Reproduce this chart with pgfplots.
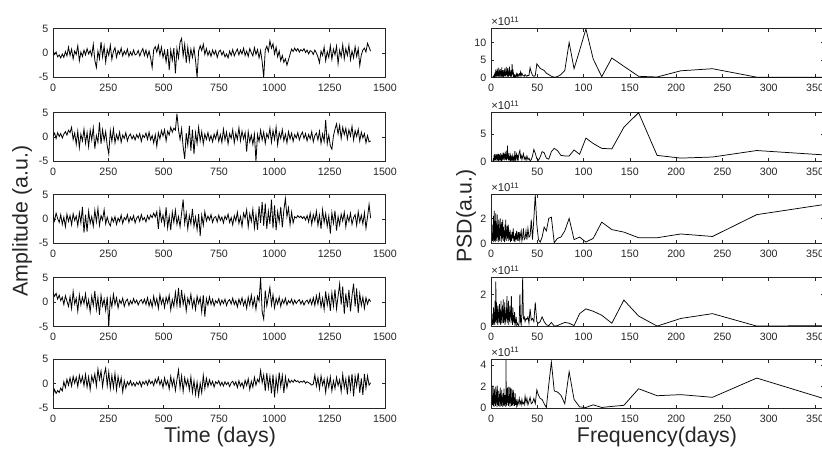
\documentclass[border=0pt]{standalone}
\usepackage{fontspec}
\setmainfont{Liberation Sans}
\usepackage{pgfplots}
\pgfplotsset{compat=1.18}

\definecolor{axgray}{RGB}{38,38,38}

\pgfplotsset{
  panel/.style={
    scale only axis, height=36.5pt,
    axis line style={axgray, line width=0.5pt},
    tick align=inside, major tick length=2.5pt,
    every tick/.style={axgray, line width=0.5pt},
    tick label style={font=\fontsize{8}{9}\selectfont, text=axgray},
    /pgf/number format/assume math mode=true,
    xticklabel style={yshift=-1.8pt},
    anchor=north west,
  },
  leftpanel/.style={panel, width=249pt,
    xmin=0, xmax=1500, ymin=-5, ymax=5,
    xtick={0,250,500,750,1000,1250,1500},
    xticklabels={0,250,500,750,1000,1250,1500},
    ytick={-5,0,5}, yticklabels={-5,0,5}},
  rightpanel/.style={panel, width=250pt,
    xmin=0, xmax=360, ymin=0,
    xtick={0,50,100,150,200,250,300,350},
    xticklabels={0,50,100,150,200,250,300,350},
    extra description/.code={
      \node[anchor=south west, inner sep=0pt, yshift=1.8pt,
        font=\fontsize{8.5}{9}\selectfont, text=axgray] at (0,1) {×10\textsuperscript{11}};}},
  sig/.style={black, line width=0.6pt},
  psd/.style={black, line width=0.55pt},
}

\begin{document}
\begin{tikzpicture}

% ---------- time series ----------
\begin{axis}[leftpanel, at={(39.75pt,-21.5pt)}]
\addplot[sig] coordinates {
(0,0.5)(7,-0.3)(14,0.2)(21,-0.8)(28,-0.4)(35,-1.0)(42,-0.2)(49,-0.9)(56,0.3)(63,-0.6)
(70,1.2)(77,-0.5)(84,0.8)(91,-1.2)(98,0.4)(105,-0.3)(112,1.5)(119,-1.6)(126,0.2)(133,-0.7)
(140,0.6)(147,-0.4)(154,0.9)(161,-0.2)(168,0.5)(175,-0.6)(182,1.8)(189,-1.5)(196,-3.0)(203,0.4)
(210,-1.2)(217,2.3)(224,-0.8)(231,1.4)(238,-1.9)(245,0.7)(252,-0.5)(259,1.6)(266,-1.3)(273,0.3)
(280,1.1)(287,-0.9)(294,0.5)(301,-0.2)(308,1.0)(315,-0.6)(322,0.4)(329,-0.3)(336,0.8)(343,-0.7)
(350,0.2)(357,-0.5)(364,0.6)(371,-0.4)(378,-0.2)(385,0.5)(392,-0.6)(399,0.3)(406,0.9)(413,-0.5)
(420,0.6)(427,-0.8)(434,0.4)(441,-1.0)(448,-3.0)(455,0.7)(462,1.3)(469,0.2)(476,1.6)(483,-0.4)
(490,1.2)(497,-0.9)(504,0.5)(511,-1.8)(518,0.8)(525,-3.5)(532,0.6)(539,-1.5)(546,1.0)(553,-4.2)
(560,0.9)(567,-1.0)(574,2.2)(581,3.0)(588,-0.6)(595,1.8)(602,-2.0)(609,1.2)(616,-1.6)(623,0.8)
(630,-0.9)(637,1.0)(644,-1.5)(651,-5.0)(658,0.4)(665,1.5)(672,0.5)(679,1.8)(686,-0.3)(693,0.9)
(700,-0.5)(707,0.4)(714,-0.7)(721,0.6)(728,-0.3)(735,0.5)(742,-0.9)(749,0.2)(756,0.6)(763,-0.4)
(770,0.3)(777,-0.8)(784,-0.2)(791,-1.0)(798,0.4)(805,-0.5)(812,0.7)(819,-0.6)(826,0.2)(833,0.8)
(840,-0.4)(847,0.6)(854,-0.2)(861,1.0)(868,-0.5)(875,0.4)(882,-0.7)(889,0.9)(896,0.1)(903,-0.6)
(910,1.1)(917,-0.3)(924,0.7)(931,-1.0)(938,0.5)(945,-1.8)(952,-5.0)(959,0.6)(966,1.4)(973,0.3)
(980,2.5)(987,1.0)(994,1.9)(1001,-0.2)(1008,1.2)(1015,-0.8)(1022,0.4)(1029,-1.6)(1036,-0.5)(1043,-1.9)
(1050,-1.2)(1057,-2.5)(1064,-1.4)(1071,-0.3)(1078,0.8)(1085,0.3)(1092,1.0)(1099,0.4)(1106,0.9)(1113,0.2)
(1120,0.7)(1127,0.4)(1134,0.9)(1141,0.1)(1148,0.6)(1155,-0.2)(1162,0.5)(1169,0.3)(1176,-0.3)(1183,0.6)
(1190,0.0)(1197,-0.8)(1204,-2.0)(1211,0.4)(1218,-0.5)(1225,1.2)(1232,-1.6)(1239,0.3)(1246,-0.9)(1253,1.5)
(1260,-1.3)(1267,0.8)(1274,-0.4)(1281,1.4)(1288,-2.2)(1295,0.6)(1302,-0.8)(1309,1.7)(1316,-1.2)(1323,0.9)
(1330,-0.5)(1337,1.6)(1344,-1.4)(1351,0.4)(1358,-1.0)(1365,1.3)(1372,-0.7)(1379,0.9)(1386,-2.6)(1393,-0.4)
(1400,0.6)(1407,1.0)(1414,0.2)(1421,2.0)(1428,1.2)(1435,0.4)};
\end{axis}

\begin{axis}[leftpanel, at={(39.75pt,-84.5pt)}]
\addplot[sig] coordinates {
(0,0.2)(7,0.8)(14,-0.3)(21,0.9)(28,0.1)(35,0.7)(42,-0.2)(49,0.6)(56,1.1)(63,0.4)
(70,1.4)(77,0.9)(84,2.0)(91,-0.5)(98,0.8)(105,-1.5)(112,1.2)(119,-2.2)(126,0.6)(133,-0.8)
(140,1.6)(147,-1.3)(154,0.9)(161,-2.0)(168,1.4)(175,-0.6)(182,1.9)(189,-2.4)(196,0.3)(203,-1.1)
(210,3.0)(217,-1.4)(224,1.5)(231,-0.7)(238,1.1)(245,-1.8)(252,-3.5)(259,1.3)(266,-0.9)(273,1.7)
(280,-1.2)(287,0.5)(294,-0.6)(301,1.0)(308,-1.1)(315,0.4)(322,-0.3)(329,0.9)(336,-0.8)(343,0.2)
(350,0.6)(357,-0.4)(364,0.3)(371,-0.6)(378,0.5)(385,-0.2)(392,0.7)(399,-0.9)(406,0.4)(413,-0.1)
(420,0.8)(427,-0.5)(434,1.0)(441,-0.6)(448,0.3)(455,-1.2)(462,0.5)(469,-1.9)(476,0.9)(483,-0.4)
(490,1.3)(497,0.2)(504,1.5)(511,-0.8)(518,1.2)(525,0.4)(532,2.0)(539,1.0)(546,1.8)(553,1.4)
(560,4.8)(567,1.5)(574,-0.5)(581,1.7)(588,-2.0)(595,-4.5)(602,0.8)(609,-1.7)(616,2.3)(623,-2.8)
(630,1.5)(637,-3.5)(644,0.9)(651,-1.3)(658,2.0)(665,-0.8)(672,1.1)(679,-1.4)(686,0.6)(693,-0.5)
(700,0.9)(707,-0.7)(714,0.3)(721,-1.0)(728,0.6)(735,-0.4)(742,1.2)(749,-0.9)(756,0.5)(763,-1.1)
(770,1.6)(777,-0.6)(784,1.0)(791,-1.4)(798,0.7)(805,-0.3)(812,1.5)(819,-1.2)(826,0.8)(833,-0.5)
(840,1.9)(847,-0.8)(854,1.2)(861,-0.4)(868,0.9)(875,-3.0)(882,1.1)(889,-1.0)(896,0.4)(903,-1.5)
(910,0.6)(917,-5.0)(924,0.5)(931,-0.9)(938,1.4)(945,-0.6)(952,1.0)(959,-1.3)(966,0.7)(973,-0.2)
(980,1.8)(987,-1.1)(994,1.3)(1001,-0.5)(1008,2.0)(1015,-1.6)(1022,0.9)(1029,-0.3)(1036,1.5)(1043,-0.8)
(1050,0.6)(1057,-1.2)(1064,1.1)(1071,-0.4)(1078,0.8)(1085,-0.9)(1092,0.5)(1099,-0.2)(1106,0.9)(1113,-0.6)
(1120,0.4)(1127,1.0)(1134,-0.3)(1141,0.7)(1148,-0.8)(1155,0.5)(1162,-0.4)(1169,1.1)(1176,-1.0)(1183,0.3)
(1190,0.8)(1197,-0.6)(1204,1.2)(1211,-1.3)(1218,0.6)(1225,-0.9)(1232,3.5)(1239,-1.4)(1246,0.4)(1253,-1.8)
(1260,-2.5)(1267,0.2)(1274,1.6)(1281,2.7)(1288,0.6)(1295,2.4)(1302,-0.3)(1309,2.0)(1316,0.5)(1323,1.8)
(1330,-0.4)(1337,1.5)(1344,0.2)(1351,2.2)(1358,-0.6)(1365,1.3)(1372,0.1)(1379,1.6)(1386,-0.8)(1393,1.0)
(1400,-0.2)(1407,0.7)(1414,-1.2)(1421,0.3)(1428,-1.0)(1435,-0.8)};
\end{axis}

\begin{axis}[leftpanel, at={(39.75pt,-146pt)}]
\addplot[sig] coordinates {
(0,0.8)(7,-0.4)(14,1.2)(21,0.1)(28,-0.7)(35,0.9)(42,-1.1)(49,0.4)(56,-1.6)(63,1.0)
(70,-0.5)(77,0.7)(84,-1.2)(91,1.1)(98,-0.3)(105,0.6)(112,-1.4)(119,1.3)(126,-0.8)(133,2.5)
(140,-2.8)(147,0.9)(154,-2.6)(161,1.6)(168,-0.9)(175,0.5)(182,-1.5)(189,1.8)(196,-0.6)(203,2.2)
(210,-1.3)(217,0.7)(224,-0.2)(231,1.9)(238,-1.0)(245,0.4)(252,-0.8)(259,-1.4)(266,0.3)(273,-0.6)
(280,0.5)(287,-1.1)(294,0.2)(301,-0.5)(308,0.8)(315,-0.9)(322,0.3)(329,-0.2)(336,0.9)(343,-0.7)
(350,0.4)(357,-0.3)(364,0.7)(371,-0.8)(378,0.2)(385,0.6)(392,-0.5)(399,0.9)(406,-0.2)(413,0.3)
(420,-0.6)(427,0.7)(434,-0.1)(441,0.8)(448,0.3)(455,1.2)(462,0.4)(469,1.5)(476,-2.0)(483,1.9)
(490,-0.5)(497,0.8)(504,-1.2)(511,2.4)(518,-1.8)(525,0.6)(532,-2.3)(539,1.4)(546,-0.7)(553,1.8)
(560,-1.1)(567,0.5)(574,-1.6)(581,1.2)(588,4.0)(595,-0.9)(602,1.3)(609,-2.0)(616,0.7)(623,-1.0)
(630,2.1)(637,-1.5)(644,0.4)(651,-2.2)(658,1.0)(665,-3.5)(672,0.8)(679,-1.3)(686,1.5)(693,-0.4)
(700,0.6)(707,-0.2)(714,0.9)(721,-0.7)(728,0.3)(735,0.5)(742,-0.6)(749,0.8)(756,-0.3)(763,0.4)
(770,-0.8)(777,0.6)(784,-0.1)(791,1.0)(798,-0.7)(805,0.3)(812,-1.2)(819,0.7)(826,-0.4)(833,1.4)
(840,-0.9)(847,0.5)(854,-1.5)(861,1.2)(868,0.2)(875,1.9)(882,-1.6)(889,1.1)(896,-0.5)(903,2.0)
(910,-1.8)(917,0.9)(924,-2.2)(931,2.6)(938,-0.8)(945,3.5)(952,-1.4)(959,3.2)(966,-2.0)(973,1.6)
(980,-1.0)(987,4.0)(994,-1.9)(1001,2.8)(1008,-2.3)(1015,1.5)(1022,-0.6)(1029,2.5)(1036,-1.7)(1043,1.8)
(1050,4.2)(1057,0.5)(1064,2.3)(1071,-1.2)(1078,1.4)(1085,-0.8)(1092,0.5)(1099,0.2)(1106,0.7)(1113,0.3)
(1120,0.6)(1127,0.1)(1134,0.5)(1141,-0.2)(1148,0.7)(1155,-0.6)(1162,1.2)(1169,-1.1)(1176,0.9)(1183,-0.4)
(1190,1.6)(1197,-1.3)(1204,0.8)(1211,-2.0)(1218,1.9)(1225,-0.7)(1232,1.1)(1239,-1.5)(1246,0.6)(1253,-3.0)
(1260,1.3)(1267,-0.9)(1274,1.7)(1281,-2.4)(1288,0.5)(1295,-1.2)(1302,1.0)(1309,-0.4)(1316,1.4)(1323,-1.6)
(1330,0.7)(1337,-0.5)(1344,1.2)(1351,-1.1)(1358,0.3)(1365,0.9)(1372,-1.3)(1379,1.5)(1386,-0.6)(1393,0.8)
(1400,-1.0)(1407,1.3)(1414,-1.9)(1421,0.4)(1428,3.0)(1435,0.2)};
\end{axis}

\begin{axis}[leftpanel, at={(39.75pt,-208.3pt)}]
\addplot[sig] coordinates {
(0,2.0)(7,1.2)(14,1.8)(21,0.6)(28,1.4)(35,0.3)(42,1.0)(49,-0.5)(56,1.3)(63,0.2)
(70,-0.9)(77,1.1)(84,-1.3)(91,2.2)(98,-0.4)(105,0.8)(112,-1.9)(119,1.5)(126,-0.6)(133,1.0)
(140,-0.3)(147,1.7)(154,-1.1)(161,0.5)(168,-2.0)(175,1.2)(182,-0.7)(189,2.3)(196,-1.5)(203,0.9)
(210,-2.6)(217,1.4)(224,-0.8)(231,0.6)(238,-1.7)(245,1.1)(252,-5.0)(259,0.8)(266,-1.0)(273,1.6)
(280,-0.5)(287,0.9)(294,-1.2)(301,0.4)(308,-0.3)(315,0.8)(322,-0.9)(329,0.2)(336,0.6)(343,-0.7)
(350,0.3)(357,-0.4)(364,0.7)(371,-0.2)(378,0.4)(385,-0.6)(392,0.2)(399,0.5)(406,-0.3)(413,0.6)
(420,-0.5)(427,0.9)(434,-0.8)(441,0.4)(448,-1.0)(455,1.2)(462,-0.6)(469,0.7)(476,-1.3)(483,1.5)
(490,-0.4)(497,0.8)(504,-1.1)(511,1.0)(518,-0.2)(525,1.4)(532,-1.6)(539,0.5)(546,-0.9)(553,2.0)
(560,-0.7)(567,2.9)(574,-1.2)(581,2.5)(588,-0.5)(595,1.3)(602,-1.8)(609,0.8)(616,-0.4)(623,1.6)
(630,-1.1)(637,0.6)(644,-1.5)(651,1.2)(658,-0.3)(665,0.9)(672,-2.0)(679,1.4)(686,-3.0)(693,0.7)
(700,-0.6)(707,1.1)(714,-0.5)(721,0.6)(728,-0.8)(735,0.3)(742,-0.2)(749,0.7)(756,-0.6)(763,0.4)
(770,-0.3)(777,0.6)(784,-0.7)(791,0.2)(798,0.5)(805,-0.4)(812,0.8)(819,-0.5)(826,0.3)(833,-1.0)
(840,0.6)(847,-0.4)(854,0.9)(861,-0.7)(868,0.4)(875,-1.3)(882,1.0)(889,-0.6)(896,1.4)(903,-0.9)
(910,0.8)(917,-1.5)(924,1.2)(931,0.2)(938,5.0)(945,-2.0)(952,-3.5)(959,2.4)(966,-0.8)(973,1.1)
(980,3.0)(987,-0.6)(994,1.5)(1001,-1.2)(1008,0.7)(1015,-0.4)(1022,1.0)(1029,-0.9)(1036,0.5)(1043,-0.3)
(1050,0.8)(1057,-0.6)(1064,0.3)(1071,-0.2)(1078,0.6)(1085,-0.5)(1092,0.4)(1099,-0.3)(1106,0.2)(1113,0.5)
(1120,-0.4)(1127,0.3)(1134,-0.6)(1141,0.1)(1148,0.4)(1155,-0.3)(1162,0.6)(1169,-0.5)(1176,0.9)(1183,-0.7)
(1190,1.3)(1197,-0.4)(1204,1.6)(1211,-1.0)(1218,0.8)(1225,-1.5)(1232,2.2)(1239,-0.6)(1246,1.4)(1253,-1.8)
(1260,1.9)(1267,-0.8)(1274,2.6)(1281,-1.4)(1288,1.2)(1295,3.7)(1302,-0.5)(1309,3.2)(1316,-2.4)(1323,1.8)
(1330,-1.1)(1337,2.5)(1344,-1.9)(1351,1.3)(1358,3.8)(1365,-0.9)(1372,2.8)(1379,-2.2)(1386,1.7)(1393,-0.7)
(1400,1.0)(1407,-1.3)(1414,0.9)(1421,-0.4)(1428,0.6)(1435,0.1)};
\end{axis}

\begin{axis}[leftpanel, at={(39.75pt,-269.5pt)}]
\addplot[sig] coordinates {
(0,-2.5)(7,-1.2)(14,-2.0)(21,-1.4)(28,-1.8)(35,-0.9)(42,-1.5)(49,0.4)(56,-0.8)(63,0.9)
(70,-0.3)(77,1.2)(84,-0.5)(91,1.5)(98,0.1)(105,1.3)(112,-0.6)(119,1.7)(126,0.2)(133,1.5)
(140,-0.4)(147,1.9)(154,-0.7)(161,1.4)(168,-1.2)(175,1.6)(182,0.3)(189,2.0)(196,-0.5)(203,3.0)
(210,0.8)(217,2.6)(224,-0.6)(231,1.8)(238,3.2)(245,-0.4)(252,2.4)(259,-1.0)(266,1.7)(273,-0.8)
(280,2.1)(287,-1.3)(294,1.5)(301,-0.5)(308,1.2)(315,-1.7)(322,0.6)(329,-0.9)(336,0.4)(343,-0.3)
(350,0.6)(357,-0.4)(364,0.2)(371,-0.5)(378,0.3)(385,-0.2)(392,0.5)(399,-0.6)(406,0.4)(413,-0.1)
(420,0.6)(427,-0.3)(434,0.8)(441,0.0)(448,0.5)(455,-0.4)(462,0.9)(469,0.1)(476,1.3)(483,-0.2)
(490,0.7)(497,-0.8)(504,1.2)(511,-0.3)(518,0.6)(525,-1.1)(532,1.5)(539,-0.5)(546,1.0)(553,-1.4)
(560,0.8)(567,2.8)(574,-0.9)(581,1.6)(588,-1.6)(595,1.2)(602,-0.4)(609,0.9)(616,-1.3)(623,1.4)
(630,-1.8)(637,0.6)(644,-2.2)(651,0.3)(658,-2.5)(665,0.1)(672,-1.9)(679,1.7)(686,-1.0)(693,1.1)
(700,-0.6)(707,0.8)(714,-0.3)(721,0.5)(728,-0.7)(735,0.4)(742,0.0)(749,0.6)(756,-0.4)(763,0.3)
(770,-0.5)(777,0.4)(784,-0.2)(791,0.3)(798,-0.6)(805,0.2)(812,0.5)(819,-0.3)(826,0.4)(833,-0.8)
(840,0.6)(847,-0.5)(854,0.2)(861,-0.9)(868,0.7)(875,-0.4)(882,1.0)(889,-1.2)(896,0.5)(903,-0.7)
(910,1.3)(917,-0.3)(924,0.9)(931,0.3)(938,2.7)(945,0.2)(952,1.8)(959,-1.5)(966,2.2)(973,-0.9)
(980,1.5)(987,-2.0)(994,1.9)(1001,-2.8)(1008,1.2)(1015,-1.4)(1022,2.3)(1029,-0.6)(1036,1.7)(1043,-1.9)
(1050,1.4)(1057,-0.8)(1064,0.9)(1071,0.2)(1078,0.7)(1085,0.3)(1092,0.8)(1099,0.4)(1106,0.6)(1113,0.2)
(1120,0.5)(1127,0.3)(1134,0.6)(1141,0.1)(1148,0.4)(1155,0.2)(1162,0.0)(1169,-0.3)(1176,-0.1)(1183,1.8)
(1190,-0.5)(1197,1.2)(1204,-1.1)(1211,1.6)(1218,-0.3)(1225,0.9)(1232,-1.8)(1239,1.1)(1246,-0.7)(1253,1.4)
(1260,-1.5)(1267,0.6)(1274,-1.0)(1281,1.3)(1288,-0.4)(1295,0.8)(1302,-1.6)(1309,1.9)(1316,-0.8)(1323,1.0)
(1330,-2.2)(1337,1.7)(1344,-1.2)(1351,2.0)(1358,-2.6)(1365,1.5)(1372,-0.5)(1379,2.2)(1386,-1.9)(1393,1.1)
(1400,-2.3)(1407,2.0)(1414,-0.9)(1421,1.6)(1428,-0.3)(1435,0.2)};
\end{axis}

% ---------- PSD (units of 1e11) ----------
\begin{axis}[rightpanel, at={(368.25pt,-21.5pt)}, ymax=14.1,
  ytick={0,5,10}, yticklabels={0,5,10}]
\addplot[psd] coordinates {
(2,0.1)(2.5,0.3)(3,0.1)(3.5,0.6)(4,0.1)(4.4,1.4)(4.8,0.2)(5.2,2.2)(5.6,0.3)(6,1.8)
(6.4,0.1)(6.8,2.5)(7.2,0.4)(7.6,1.5)(8,0.2)(8.4,2.8)(8.8,0.5)(9.2,1.2)(9.6,0.1)(10,2.4)
(10.4,0.6)(10.8,1.7)(11.2,0.2)(11.6,2.9)(12,0.8)(12.4,1.3)(12.8,0.2)(13.2,2.1)(13.6,0.4)(14,1.0)
(14.4,0.3)(14.8,2.6)(15.2,0.5)(15.6,1.6)(16,0.2)(16.4,3.0)(16.8,0.7)(17.2,1.9)(17.6,0.3)(18,2.7)
(18.4,0.6)(18.8,1.1)(19.2,0.2)(19.6,2.3)(20,3.1)(20.4,0.4)(20.8,1.5)(21.2,0.2)(21.6,2.0)(22,0.5)
(22.4,1.2)(22.8,3.8)(23.2,0.8)(23.6,2.4)(24,0.3)(24.4,1.0)(25,0.2)(25.6,0.6)(26.2,0.1)(26.8,0.4)
(27.4,1.0)(28,0.2)(28.7,0.9)(29.3,0.3)(29.9,0.7)
(30.5,1.0)(31.2,0.4)(31.9,1.5)(32.6,0.5)(33.4,1.2)(34.2,0.6)(35,0.5)(35.9,0.3)(36.8,0.8)(37.8,0.5)
(38.8,0.3)(39.9,0.6)(41,0.5)(42.2,2.8)(43.5,1.5)(44.8,0.6)(46.3,0.3)(47.8,0.5)(49.5,3.9)(51.25,3.3)
(53.1,2.6)(55.2,2.3)(57.4,2.0)(59.8,1.2)(62.4,0.8)(65.2,0.3)(68.3,0.05)(71.75,0.2)(75.5,0.8)(79.7,2.0)
(84.4,10.1)(89.7,2.5)(95.7,7.8)(102.5,14.0)(110.4,5.3)(119.6,0.2)(130.5,5.6)(143.5,3.2)(159.4,0.3)(179.4,0.1)
(205,1.9)(239.2,2.5)(287,0.05)(358.75,0.05)};
\end{axis}

\begin{axis}[rightpanel, at={(368.25pt,-84.5pt)}, ymax=9,
  ytick={0,5}, yticklabels={0,5},
  xtick={50,100,150,200,250,300,350},
  xticklabels={50,100,150,200,250,300,350}]
\addplot[psd] coordinates {
(2,0.1)(2.5,0.4)(3,0.1)(3.4,1.2)(3.8,0.2)(4.2,1.4)(4.6,0.3)(5,1.0)(5.4,0.1)(5.8,1.3)
(6.2,0.4)(6.6,1.1)(7,0.2)(7.4,1.4)(7.8,0.5)(8.2,0.9)(8.6,0.1)(9,1.3)(9.4,0.3)(9.8,1.0)
(10.2,0.2)(10.6,1.5)(11,0.4)(11.4,0.8)(11.8,0.1)(12.2,1.2)(12.6,0.3)(13,1.6)(13.4,0.5)(13.8,1.0)
(14.2,0.2)(14.6,1.4)(15,0.6)(15.4,1.8)(15.8,0.3)(16.2,1.1)(16.6,0.2)(17,2.0)(17.4,0.5)(17.8,2.9)
(18.2,0.4)(18.6,1.2)(19,0.2)(19.4,1.5)(19.8,0.3)(20.2,0.9)(20.6,0.1)(21,1.0)(21.6,0.2)(22.2,0.8)
(22.8,0.3)(23.4,1.0)(24,0.1)(24.6,0.7)(25.2,0.2)(25.8,1.9)(26.4,0.3)(27,0.8)(27.6,1.3)(28.2,0.2)
(28.8,0.9)(29.4,0.4)(29.9,1.2)
(30.5,1.6)(31.2,2.0)(31.9,0.7)(32.6,1.1)(33.4,0.3)(34.2,0.9)(35,1.4)(35.9,0.4)(36.8,0.8)(37.8,0.2)
(38.8,1.0)(39.9,0.3)(41,0.6)(42.2,0.1)(43.5,0.3)(44.8,1.0)(46.3,2.2)(47.8,1.5)(49.5,0.5)(51.25,0.2)
(53.1,0.8)(55.2,1.8)(57.4,1.6)(59.8,0.6)(62.4,0.4)(65.2,1.8)(68.3,2.4)(71.75,2.0)(75.5,1.1)(79.7,1.0)
(84.4,1.0)(89.7,2.1)(95.7,1.3)(102.5,4.3)(110.4,3.3)(119.6,2.4)(130.5,2.3)(143.5,6.3)(159.4,9.0)(179.4,1.1)
(205,0.6)(239.2,0.8)(287,2.0)(358.75,1.2)};
\end{axis}

\begin{axis}[rightpanel, at={(368.25pt,-146pt)}, ymax=3.9,
  ytick={0,2}, yticklabels={0,2}]
\addplot[psd] coordinates {
(1.5,0.2)(2,1.5)(2.4,0.1)(2.8,2.2)(3.2,0.3)(3.5,2.6)(3.9,0.2)(4.3,1.8)(4.7,0.1)(5.1,2.4)
(5.5,0.4)(5.9,1.6)(6.3,0.2)(6.7,2.3)(7.1,0.5)(7.5,1.4)(7.9,0.1)(8.3,1.9)(8.7,0.3)(9.1,1.2)
(9.5,0.2)(9.9,2.0)(10.3,0.6)(10.7,1.5)(11.1,0.1)(11.5,1.7)(11.9,0.4)(12.3,1.1)(12.7,1.9)(13.1,0.2)
(13.5,1.3)(13.9,0.5)(14.3,0.9)(14.7,0.1)(15.1,1.5)(15.5,0.3)(15.9,1.9)(16.3,0.6)(16.7,1.0)(17.1,0.2)
(17.5,1.4)(17.9,0.4)(18.3,0.8)(18.7,1.5)(19.1,0.2)(19.6,0.9)(20.1,0.3)(20.6,1.1)(21.1,0.1)(21.6,0.7)
(22.2,0.2)(22.8,0.9)(23.4,0.4)(24,1.2)(24.6,0.2)(25.2,0.6)(25.8,0.1)(26.4,0.8)(27,0.3)(27.7,1.0)
(28.3,0.2)(28.9,0.6)(29.5,0.9)(30,0.2)
(30.5,0.9)(31.2,0.3)(31.9,0.7)(32.6,1.0)(33.4,0.2)(34.2,0.5)(35,1.2)(35.9,0.3)(36.8,0.4)(37.8,1.0)
(38.8,0.3)(39.9,1.2)(41,0.5)(42.2,0.6)(43.5,1.9)(44.8,0.3)(46.3,2.0)(47.8,3.9)(49.5,1.5)(51.25,0.3)
(53.1,0.1)(55.2,0.5)(57.4,1.3)(59.8,1.0)(62.4,2.0)(65.2,2.1)(68.3,0.05)(71.75,0.4)(75.5,0.5)(79.7,1.0)
(84.4,2.0)(89.7,0.3)(95.7,0.5)(102.5,0.1)(110.4,0.4)(119.6,1.7)(130.5,1.1)(143.5,0.9)(159.4,0.45)(179.4,0.45)
(205,0.75)(239.2,0.55)(287,2.3)(358.75,3.1)};
\end{axis}

\begin{axis}[rightpanel, at={(368.25pt,-208.3pt)}, ymax=3.05,
  ytick={0,2}, yticklabels={0,2}]
\addplot[psd] coordinates {
(1.5,0.1)(2,0.8)(2.4,0.1)(2.8,1.2)(3.2,0.2)(3.6,0.9)(4,0.1)(4.4,1.6)(4.8,0.3)(5.2,2.8)
(5.6,0.2)(6,1.5)(6.4,0.4)(6.8,1.1)(7.2,0.1)(7.6,1.3)(8,0.5)(8.4,0.8)(8.8,0.2)(9.2,1.4)
(9.6,0.3)(10,1.0)(10.4,0.1)(10.8,1.6)(11.2,0.4)(11.6,0.9)(12,0.2)(12.4,1.3)(12.8,0.6)(13.2,1.7)
(13.6,0.2)(14,1.0)(14.4,0.4)(14.8,1.5)(15.2,0.1)(15.6,0.8)(16,0.3)(16.4,1.2)(16.8,0.5)(17.2,1.9)
(17.6,0.2)(18,1.1)(18.4,0.4)(18.8,1.6)(19.2,0.1)(19.6,0.9)(20,0.3)(20.4,1.3)(20.8,0.6)(21.2,1.0)
(21.6,0.2)(22,1.9)(22.4,0.4)(22.8,0.8)(23.2,0.1)(23.6,1.2)(24,0.3)(24.5,0.7)(25,0.2)(25.5,0.9)
(26,0.1)(26.6,0.3)(27.2,0.6)(27.8,0.1)(28.4,0.2)(29,0.1)(29.9,0.05)
(30.5,0.3)(31.2,2.0)(31.9,0.3)(32.6,0.1)(33.4,0.8)(34.2,3.05)(35,0.5)(35.9,0.6)(36.8,0.3)(37.8,0.5)
(38.8,0.45)(39.9,0.6)(41,0.2)(42.2,1.1)(43.5,0.4)(44.8,0.5)(46.3,0.3)(47.8,1.5)(49.5,0.3)(51.25,0.2)
(53.1,0.3)(55.2,0.6)(57.4,0.3)(59.8,0.1)(62.4,0.05)(65.2,0.25)(68.3,0.02)(71.75,0.05)(75.5,0.15)(79.7,0.25)
(84.4,0.2)(89.7,0.05)(95.7,0.8)(102.5,1.1)(110.4,0.95)(119.6,0.7)(130.5,0.2)(143.5,1.65)(159.4,0.65)(179.4,0.02)
(205,0.5)(239.2,0.8)(287,0.02)(358.75,0.05)};
\end{axis}

\begin{axis}[rightpanel, at={(368.25pt,-269.5pt)}, ymax=4.55,
  ytick={0,2,4}, yticklabels={0,2,4}]
\addplot[psd] coordinates {
(1.5,0.3)(2,2.1)(2.4,0.2)(2.8,1.4)(3.2,0.1)(3.6,1.8)(4,0.4)(4.4,1.2)(4.8,0.2)(5.2,2.0)
(5.6,0.5)(6,1.5)(6.4,0.1)(6.8,2.1)(7.2,0.3)(7.6,1.0)(8,0.2)(8.4,1.6)(8.8,0.6)(9.2,1.3)
(9.6,0.1)(10,1.9)(10.4,0.4)(10.8,1.1)(11.2,0.2)(11.6,1.7)(12,0.5)(12.4,1.0)(12.8,0.1)(13.2,1.4)
(13.6,0.3)(14,1.8)(14.4,0.2)(14.8,1.2)(15.2,0.4)(15.6,0.9)(16,0.1)(16.2,4.5)(16.5,0.2)(16.9,1.5)
(17.3,0.3)(17.7,1.9)(18.1,0.5)(18.5,1.1)(18.9,0.2)(19.3,2.0)(19.7,0.4)(20.1,1.3)(20.5,0.1)(20.9,1.9)
(21.3,0.5)(21.7,1.0)(22.1,0.2)(22.5,1.8)(22.9,0.3)(23.3,1.4)(23.7,0.2)(24.1,1.7)(24.5,0.4)(25,1.0)
(25.5,0.2)(26,1.4)(26.6,0.3)(27.2,0.8)(27.8,0.2)(28.4,0.6)(29,0.3)(29.6,0.5)
(30.5,0.9)(31.2,0.4)(31.9,0.6)(32.6,0.3)(33.4,0.8)(34.2,0.4)(35,0.5)(35.9,0.3)(36.8,1.1)(37.8,0.5)
(38.8,0.9)(39.9,0.3)(41,0.6)(42.2,1.0)(43.5,0.4)(44.8,0.5)(46.3,0.9)(47.8,0.4)(49.5,1.7)(51.25,1.2)
(53.1,0.9)(55.2,0.8)(57.4,0.4)(59.8,0.05)(62.4,2.2)(65.2,4.3)(68.3,1.6)(71.75,1.5)(75.5,1.2)(79.7,0.4)
(84.4,3.4)(89.7,0.8)(95.7,0.1)(102.5,0.05)(110.4,0.3)(119.6,0.05)(130.5,0.15)(143.5,0.25)(159.4,1.8)(179.4,1.15)
(205,1.25)(239.2,1.0)(287,2.8)(358.75,0.9)};
\end{axis}

% ---------- shared labels ----------
\node[rotate=90, font=\fontsize{16}{18}\selectfont, text=axgray] at (16.5pt,-165.75pt) {Amplitude (a.u.)};
\node[rotate=90, font=\fontsize{16}{18}\selectfont, text=axgray] at (349.5pt,-162pt) {PSD(a.u.)};
\node[font=\fontsize{16}{18}\selectfont, text=axgray] at (165pt,-327.75pt) {Time (days)};
\node[font=\fontsize{16}{18}\selectfont, text=axgray] at (492.75pt,-327.75pt) {Frequency(days)};

\pgfresetboundingbox
\useasboundingbox (0pt,0pt) rectangle (616.5pt,-341.25pt);
\end{tikzpicture}
\end{document}
